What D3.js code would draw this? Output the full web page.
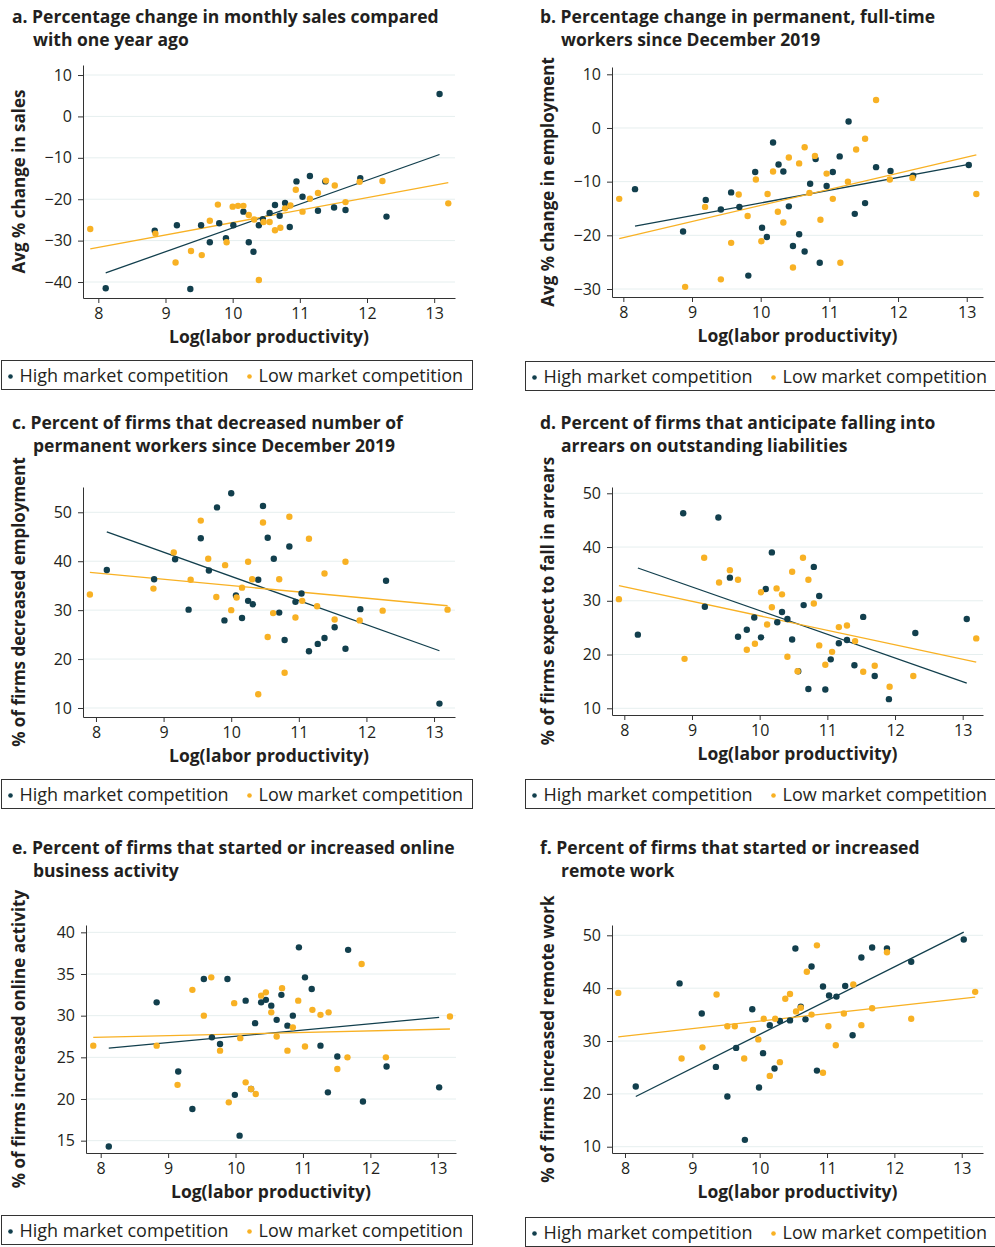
<!DOCTYPE html>
<html>
<head>
<meta charset="utf-8">
<script src="https://cdn.jsdelivr.net/npm/d3@7"></script>
<style>
  body { margin: 0; background: #fff; }
  svg { font-family: 'Open Sans', 'Noto Sans', sans-serif; }
</style>
</head>
<body>
<div id="chart"></div>
<script>
// shared
const xTicks = [8, 9, 10, 11, 12, 13];
const seriesNames = ['High market competition', 'Low market competition'];

// a. sales
const aTitle = ['a. Percentage change in monthly sales compared', 'with one year ago'];
const aYLabel = 'Avg % change in sales';
const aYTicks = [10, 0, -10, -20, -30, -40];
const aHigh = [[13.08,5.4],[8.11,-41.5],[8.84,-27.6],[9.17,-26.3],[9.37,-41.7],[9.53,-26.3],[9.66,-30.4],[9.80,-25.8],[9.90,-29.4],[10.01,-26.3],[10.16,-23.0],[10.24,-30.4],[10.31,-32.7],[10.39,-26.3],[10.45,-24.8],[10.55,-23.3],[10.63,-21.4],[10.70,-24.0],[10.78,-20.9],[10.85,-26.7],[10.95,-15.7],[11.04,-19.4],[11.15,-14.4],[11.27,-22.8],[11.38,-15.7],[11.51,-22.0],[11.68,-22.6],[11.90,-14.9],[12.29,-24.2]];
const aLow = [[7.88,-27.2],[8.85,-28.3],[9.15,-35.3],[9.38,-32.5],[9.54,-33.5],[9.66,-25.2],[9.78,-21.3],[9.91,-30.4],[10.00,-21.8],[10.08,-21.6],[10.16,-21.6],[10.24,-23.8],[10.32,-24.9],[10.39,-39.5],[10.46,-25.5],[10.55,-25.5],[10.63,-27.5],[10.71,-26.9],[10.78,-22.2],[10.86,-21.5],[10.94,-17.7],[11.04,-23.0],[11.15,-19.9],[11.27,-18.5],[11.39,-15.5],[11.52,-16.7],[11.68,-20.7],[11.89,-15.8],[12.23,-15.6],[13.21,-21.0]];
const aFit = { high: [-37.8, -9.2], low: [-32.0, -16.0] };

// b. employment
const bTitle = ['b. Percentage change in permanent, full-time', 'workers since December 2019'];
const bYLabel = 'Avg % change in employment';
const bYTicks = [10, 0, -10, -20, -30];
const bHigh = [[8.17,-11.4],[8.87,-19.3],[9.20,-13.4],[9.42,-15.2],[9.57,-12.0],[9.69,-14.7],[9.82,-27.5],[9.92,-8.2],[10.02,-18.6],[10.09,-20.3],[10.18,-2.7],[10.26,-6.8],[10.33,-8.1],[10.41,-14.6],[10.47,-22.0],[10.56,-19.8],[10.64,-23.0],[10.72,-10.4],[10.80,-5.8],[10.86,-25.1],[10.96,-10.8],[11.05,-8.2],[11.15,-5.3],[11.28,1.2],[11.37,-16.0],[11.52,-14.0],[11.68,-7.3],[11.89,-8.0],[12.22,-8.9],[13.03,-6.9]];
const bLow = [[7.94,-13.2],[8.90,-29.6],[9.19,-14.7],[9.42,-28.2],[9.57,-21.4],[9.68,-12.4],[9.81,-16.4],[9.93,-9.6],[10.01,-21.1],[10.10,-12.3],[10.18,-8.1],[10.25,-15.6],[10.33,-17.6],[10.41,-5.5],[10.47,-26.0],[10.56,-6.6],[10.64,-3.6],[10.71,-12.1],[10.79,-5.2],[10.87,-17.1],[10.96,-8.5],[11.05,-13.2],[11.16,-25.1],[11.27,-10.0],[11.39,-4.0],[11.52,-2.0],[11.68,5.2],[11.88,-9.6],[12.21,-9.3],[13.14,-12.3]];
const bFit = { high: [-18.3, -6.8], low: [-20.6, -5.0] };

// c. decreased employment
const cTitle = ['c. Percent of firms that decreased number of', 'permanent workers since December 2019'];
const cYLabel = '% of firms decreased employment';
const cYTicks = [50, 40, 30, 20, 10];
const cHigh = [[8.16,38.2],[8.86,36.3],[9.17,40.4],[9.37,30.1],[9.55,44.7],[9.67,38.1],[9.79,51.0],[9.90,27.9],[10.00,53.9],[10.07,33.0],[10.16,28.4],[10.25,31.9],[10.32,31.2],[10.40,36.2],[10.47,51.3],[10.54,44.8],[10.63,40.5],[10.71,29.5],[10.79,23.9],[10.86,43.0],[10.95,31.7],[11.04,33.4],[11.15,21.6],[11.28,23.1],[11.38,24.3],[11.53,26.5],[11.69,22.1],[11.91,30.2],[12.29,36.0],[13.08,10.9]];
const cLow = [[7.91,33.2],[8.85,34.4],[9.15,41.8],[9.40,36.2],[9.55,48.3],[9.66,40.5],[9.78,32.7],[9.91,39.2],[10.00,30.0],[10.08,32.6],[10.16,34.6],[10.25,39.9],[10.31,36.3],[10.40,12.8],[10.47,47.9],[10.54,24.5],[10.62,29.4],[10.71,36.3],[10.79,17.2],[10.86,49.1],[10.95,28.5],[11.05,31.9],[11.15,44.6],[11.27,30.8],[11.38,37.5],[11.53,28.1],[11.69,39.9],[11.90,27.9],[12.24,29.9],[13.20,30.1]];
const cFit = { high: [46.0, 21.7], low: [37.7, 30.9] };

// d. arrears
const dTitle = ['d. Percent of firms that anticipate falling into', 'arrears on outstanding liabilities'];
const dYLabel = '% of firms expect to fall in arrears';
const dYTicks = [50, 40, 30, 20, 10];
const dHigh = [[8.20,23.7],[8.87,46.3],[9.19,28.9],[9.39,45.5],[9.56,34.3],[9.68,23.3],[9.81,24.6],[9.92,26.9],[10.02,23.2],[10.09,32.2],[10.18,39.0],[10.26,26.0],[10.33,27.9],[10.41,26.6],[10.48,22.8],[10.57,16.9],[10.65,29.2],[10.72,13.6],[10.80,36.3],[10.88,30.9],[10.97,13.5],[11.05,19.1],[11.17,22.1],[11.29,22.7],[11.40,18.0],[11.53,27.0],[11.70,16.0],[11.91,11.7],[12.30,24.0],[13.06,26.6]];
const dLow = [[7.92,30.3],[8.89,19.2],[9.18,38.0],[9.40,33.4],[9.56,35.7],[9.68,33.9],[9.81,20.9],[9.93,22.0],[10.02,31.6],[10.11,25.6],[10.18,28.8],[10.25,32.3],[10.33,31.2],[10.41,19.6],[10.48,35.4],[10.56,16.9],[10.64,38.0],[10.72,33.9],[10.80,29.5],[10.88,21.7],[10.97,18.1],[11.07,20.5],[11.17,25.1],[11.29,25.4],[11.41,22.5],[11.53,16.8],[11.70,17.9],[11.92,14.0],[12.27,16.0],[13.20,23.0]];
const dFit = { high: [36.1, 14.7], low: [32.8, 18.6] };

// e. online activity
const eTitle = ['e. Percent of firms that started or increased online', 'business activity'];
const eYLabel = '% of firms increased online activity';
const eYTicks = [40, 35, 30, 25, 20, 15];
const eHigh = [[8.12,14.3],[8.83,31.6],[9.15,23.3],[9.36,18.8],[9.53,34.4],[9.65,27.4],[9.77,26.6],[9.88,34.4],[9.99,20.5],[10.06,15.6],[10.15,31.8],[10.23,21.2],[10.29,29.1],[10.38,31.6],[10.45,31.9],[10.53,31.2],[10.61,29.5],[10.68,32.5],[10.77,28.8],[10.85,30.0],[10.94,38.2],[11.03,34.6],[11.13,33.2],[11.26,26.4],[11.37,20.8],[11.51,25.1],[11.67,37.9],[11.89,19.7],[12.24,23.9],[13.02,21.4]];
const eLow = [[7.89,26.4],[8.83,26.4],[9.14,21.7],[9.36,33.1],[9.53,30.0],[9.64,34.6],[9.77,25.8],[9.90,19.6],[9.98,31.5],[10.07,27.3],[10.15,22.0],[10.23,21.2],[10.30,20.6],[10.38,32.4],[10.45,32.8],[10.53,30.4],[10.61,27.5],[10.69,33.3],[10.77,25.8],[10.85,28.6],[10.93,31.8],[11.03,26.3],[11.14,30.7],[11.26,30.1],[11.38,30.4],[11.51,23.6],[11.66,25.0],[11.87,36.2],[12.23,25.0],[13.18,29.9]];
const eFit = { high: [26.1, 29.8], low: [27.4, 28.4] };

// f. remote work
const fTitle = ['f. Percent of firms that started or increased', 'remote work'];
const fYLabel = '% of firms increased remote work';
const fYTicks = [50, 40, 30, 20, 10];
const fHigh = [[8.16,21.4],[8.81,40.9],[9.14,35.2],[9.35,25.1],[9.52,19.5],[9.65,28.7],[9.78,11.3],[9.89,36.0],[9.99,21.2],[10.05,27.7],[10.15,33.0],[10.22,24.8],[10.30,33.8],[10.45,33.9],[10.53,47.5],[10.61,36.5],[10.68,34.1],[10.77,44.1],[10.85,24.4],[10.94,40.3],[11.03,38.6],[11.14,38.4],[11.27,40.4],[11.38,31.1],[11.51,45.8],[11.67,47.7],[11.89,47.5],[12.25,45.0],[13.03,49.2]];
const fLow = [[7.90,39.1],[8.84,26.7],[9.15,28.8],[9.36,38.8],[9.52,32.8],[9.63,32.8],[9.77,26.7],[9.90,32.1],[9.98,30.3],[10.06,34.2],[10.15,23.4],[10.23,34.2],[10.30,26.0],[10.38,38.0],[10.45,38.9],[10.54,35.6],[10.61,36.3],[10.70,43.1],[10.77,35.0],[10.85,48.1],[10.94,24.0],[11.02,32.8],[11.13,29.2],[11.25,35.2],[11.39,40.7],[11.51,33.0],[11.67,36.2],[11.89,46.8],[12.25,34.2],[13.20,39.3]];
const fFit = { high: [19.5, 50.6], low: [30.8, 38.3] };

const colors = { high: '#123f4d', low: '#f8b124' };
const textColor = '#231f20';

const svg = d3.select('#chart')
    .append('svg')
    .attr('width', 995)
    .attr('height', 1247);

// panel frames: pixel box of the axes and the domain that fills it
const panels = [
    { title: aTitle, yLabel: aYLabel, yTicks: aYTicks, high: aHigh, low: aLow, fit: aFit,
      col: 0, top: 0, box: [83, 455, 65, 298], xd: [7.772, 13.31], yd: [-43.86, 12.42] },
    { title: bTitle, yLabel: bYLabel, yTicks: bYTicks, high: bHigh, low: bLow, fit: bFit,
      col: 1, top: 0, box: [612, 983, 67, 297], xd: [7.835, 13.237], yd: [-31.49, 11.36] },
    { title: cTitle, yLabel: cYLabel, yTicks: cYTicks, high: cHigh, low: cLow, fit: cFit,
      col: 0, top: 406, box: [83, 455, 487, 717], xd: [7.808, 13.31], yd: [8.16, 55.17] },
    { title: dTitle, yLabel: dYLabel, yTicks: dYTicks, high: dHigh, low: dLow, fit: dFit,
      col: 1, top: 406, box: [612, 983, 487, 715], xd: [7.818, 13.30], yd: [8.75, 51.17] },
    { title: eTitle, yLabel: eYLabel, yTicks: eYTicks, high: eHigh, low: eLow, fit: eFit,
      col: 0, top: 831, box: [86, 456, 925, 1153], xd: [7.782, 13.27], yd: [13.52, 40.88] },
    { title: fTitle, yLabel: fYLabel, yTicks: fYTicks, high: fHigh, low: fLow, fit: fFit,
      col: 1, top: 831, box: [612, 983, 925, 1153], xd: [7.807, 13.316], yd: [8.81, 51.95] }
];

const fmt = d => d < 0 ? '\u2212' + Math.abs(d) : String(d);

panels.forEach(p => {
    const [left, right, top, bottom] = p.box;
    const g = svg.append('g');

    const x = d3.scaleLinear().domain(p.xd).range([left, right]);
    const y = d3.scaleLinear().domain(p.yd).range([bottom, top]);

    // title
    const tx = p.col === 0 ? 12 : 540;
    const title = g.append('text')
        .attr('font-size', 17.5)
        .attr('font-weight', 700)
        .attr('fill', textColor);
    title.append('tspan').attr('x', tx).attr('y', p.top + 23).text(p.title[0]);
    title.append('tspan').attr('x', tx + 21).attr('y', p.top + 46).text(p.title[1]);

    // grid
    g.append('g')
        .selectAll('line')
        .data(p.yTicks)
        .join('line')
        .attr('x1', left + 1)
        .attr('x2', right)
        .attr('y1', d => y(d))
        .attr('y2', d => y(d))
        .attr('stroke', '#e6efef')
        .attr('stroke-width', 1);

    // axes
    const yAxis = g.append('g')
        .attr('transform', `translate(${left},0)`)
        .call(d3.axisLeft(y).tickValues(p.yTicks).tickFormat(fmt).tickSize(5).tickPadding(6).tickSizeOuter(0));
    const xAxis = g.append('g')
        .attr('transform', `translate(0,${bottom})`)
        .call(d3.axisBottom(x).tickValues(xTicks).tickFormat(d3.format('d')).tickSize(5).tickPadding(5).tickSizeOuter(0));
    [yAxis, xAxis].forEach(a => {
        a.select('.domain').attr('stroke', '#333');
        a.selectAll('.tick line').attr('stroke', '#333');
        a.selectAll('.tick text')
            .attr('font-size', 16)
            .attr('fill', textColor)
            .attr('font-family', "'Open Sans', sans-serif");
    });

    // axis titles
    g.append('text')
        .attr('x', (left + right) / 2)
        .attr('y', bottom + 45)
        .attr('text-anchor', 'middle')
        .attr('font-size', 17.5)
        .attr('font-weight', 700)
        .attr('fill', textColor)
        .text('Log(labor productivity)');
    g.append('text')
        .attr('transform', `translate(${p.col === 0 ? 25 : 554},${(top + bottom) / 2}) rotate(-90)`)
        .attr('text-anchor', 'middle')
        .attr('font-size', 17)
        .attr('font-weight', 700)
        .attr('fill', textColor)
        .text(p.yLabel);

    // fit lines over each series' x range
    [['high', p.high], ['low', p.low]].forEach(([key, pts]) => {
        const [x0, x1] = d3.extent(pts, d => d[0]);
        const ends = [[x0, p.fit[key][0]], [x1, p.fit[key][1]]];
        g.append('path')
            .datum(ends)
            .attr('d', d3.line().x(d => x(d[0])).y(d => y(d[1])))
            .attr('fill', 'none')
            .attr('stroke', colors[key])
            .attr('stroke-width', 1.3);
    });

    // dots
    [['high', p.high], ['low', p.low]].forEach(([key, pts]) => {
        g.append('g')
            .selectAll('circle')
            .data(pts)
            .join('circle')
            .attr('cx', d => x(d[0]))
            .attr('cy', d => y(d[1]))
            .attr('r', 3.2)
            .attr('fill', colors[key]);
    });

    // legend
    const lx = p.col === 0 ? 1.5 : 525.5;
    const ly = bottom + (p.col === 0 ? 62.5 : 64.5);
    const leg = g.append('g');
    leg.append('rect')
        .attr('x', lx)
        .attr('y', ly)
        .attr('width', p.col === 0 ? 471 : 480)
        .attr('height', 29)
        .attr('fill', 'none')
        .attr('stroke', '#333')
        .attr('stroke-width', 1);
    const items = [
        { name: seriesNames[0], color: colors.high, dx: 9 },
        { name: seriesNames[1], color: colors.low, dx: 248 }
    ];
    items.forEach(it => {
        leg.append('circle')
            .attr('cx', lx + it.dx)
            .attr('cy', ly + 16)
            .attr('r', 2.3)
            .attr('fill', it.color);
        leg.append('text')
            .attr('x', lx + it.dx + 9)
            .attr('y', ly + 21.5)
            .attr('font-size', 18)
            .attr('fill', textColor)
            .text(it.name);
    });
});
</script>
</body>
</html>
